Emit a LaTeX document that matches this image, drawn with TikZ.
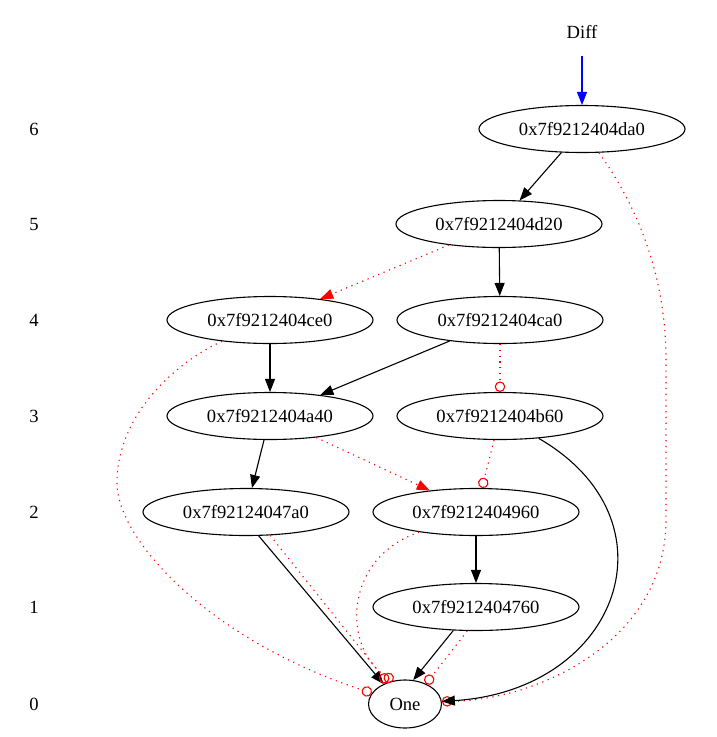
\documentclass[tikz,border=0pt]{standalone}
\usepackage{fontspec}
\setmainfont{Liberation Serif}
\usetikzlibrary{arrows.meta,shapes.geometric}
\begin{document}
\begin{tikzpicture}[x=1pt,y=-1pt,
  every node/.style={font=\fontsize{18.6}{22}\selectfont},
  bdd/.style={ellipse,draw,line width=1.1pt,minimum width=206pt,minimum height=47pt,inner sep=0pt},
  rank/.style={inner sep=0pt},
  solidarr/.style={line width=1.1pt,-{Triangle[length=13pt,width=10pt]}},
  neg/.style={red,line width=1.1pt,dash pattern=on 1.2pt off 4.6pt},
  negarrow/.style={neg,-{Triangle[length=13pt,width=10pt]}},
  negcirc/.style={neg,-{Circle[open,length=10.5pt,width=10.5pt]}},
]
\useasboundingbox (0,0) rectangle (717,737);

% level labels
\node[rank] (r6) at (34,129) {6};
\node[rank] (r5) at (34,224) {5};
\node[rank] (r4) at (34,320) {4};
\node[rank] (r3) at (34,416) {3};
\node[rank] (r2) at (34,512) {2};
\node[rank] (r1) at (34,607) {1};
\node[rank] (r0) at (34,704) {0};

% root label
\node[inner sep=0pt,minimum height=48pt] (diff) at (582,32) {Diff};

% decision nodes
\node[bdd] (da0) at (582,129) {0x7f9212404da0};
\node[bdd] (d20) at (499,224) {0x7f9212404d20};
\node[bdd] (ce0) at (270,320) {0x7f9212404ce0};
\node[bdd] (ca0) at (500,320) {0x7f9212404ca0};
\node[bdd] (a40) at (270,416) {0x7f9212404a40};
\node[bdd] (b60) at (500,416) {0x7f9212404b60};
\node[bdd] (n7a0) at (246,512) {0x7f92124047a0};
\node[bdd] (n960) at (476,512) {0x7f9212404960};
\node[bdd] (n760) at (476,607) {0x7f9212404760};
\node[bdd,minimum width=73pt,minimum height=48pt] (one) at (405,704) {One};

% edges
\draw[blue,line width=1.1pt,-{Triangle[length=13pt,width=10pt]}] (diff.south) -- (da0);
\draw[solidarr] (da0) -- (d20);
\draw[negcirc] (da0) .. controls (640,210) and (666,280) .. (666,360) -- (666,520)
  .. controls (666,640) and (540,700) .. (one.4);
\draw[solidarr] (d20) -- (ca0);
\draw[negarrow] (d20) -- (ce0);
\draw[solidarr] (ce0) -- (a40);
\draw[negcirc] (ce0) .. controls (180,360) and (117,412) .. (117,483)
  .. controls (117,540) and (210,640) .. (one);
\draw[solidarr] (ca0) -- (a40);
\draw[negcirc] (ca0) -- (b60);
\draw[solidarr] (a40) -- (n7a0);
\draw[negarrow] (a40) -- (n960);
\draw[solidarr] (b60) .. controls (680,520) and (620,690) .. (one.4);
\draw[negcirc] (b60) -- (n960);
\draw[solidarr] (n7a0.-62) -- (one.137);
\draw[negcirc] (n7a0.-44) -- (one.129);
\draw[solidarr] (n960) -- (n760);
\draw[negcirc] (n960) .. controls (340,560) and (345,650) .. (one.117);
\draw[solidarr] (n760.-134) -- (one.71);
\draw[negcirc] (n760.-110) -- (one.44);
\end{tikzpicture}
\end{document}
